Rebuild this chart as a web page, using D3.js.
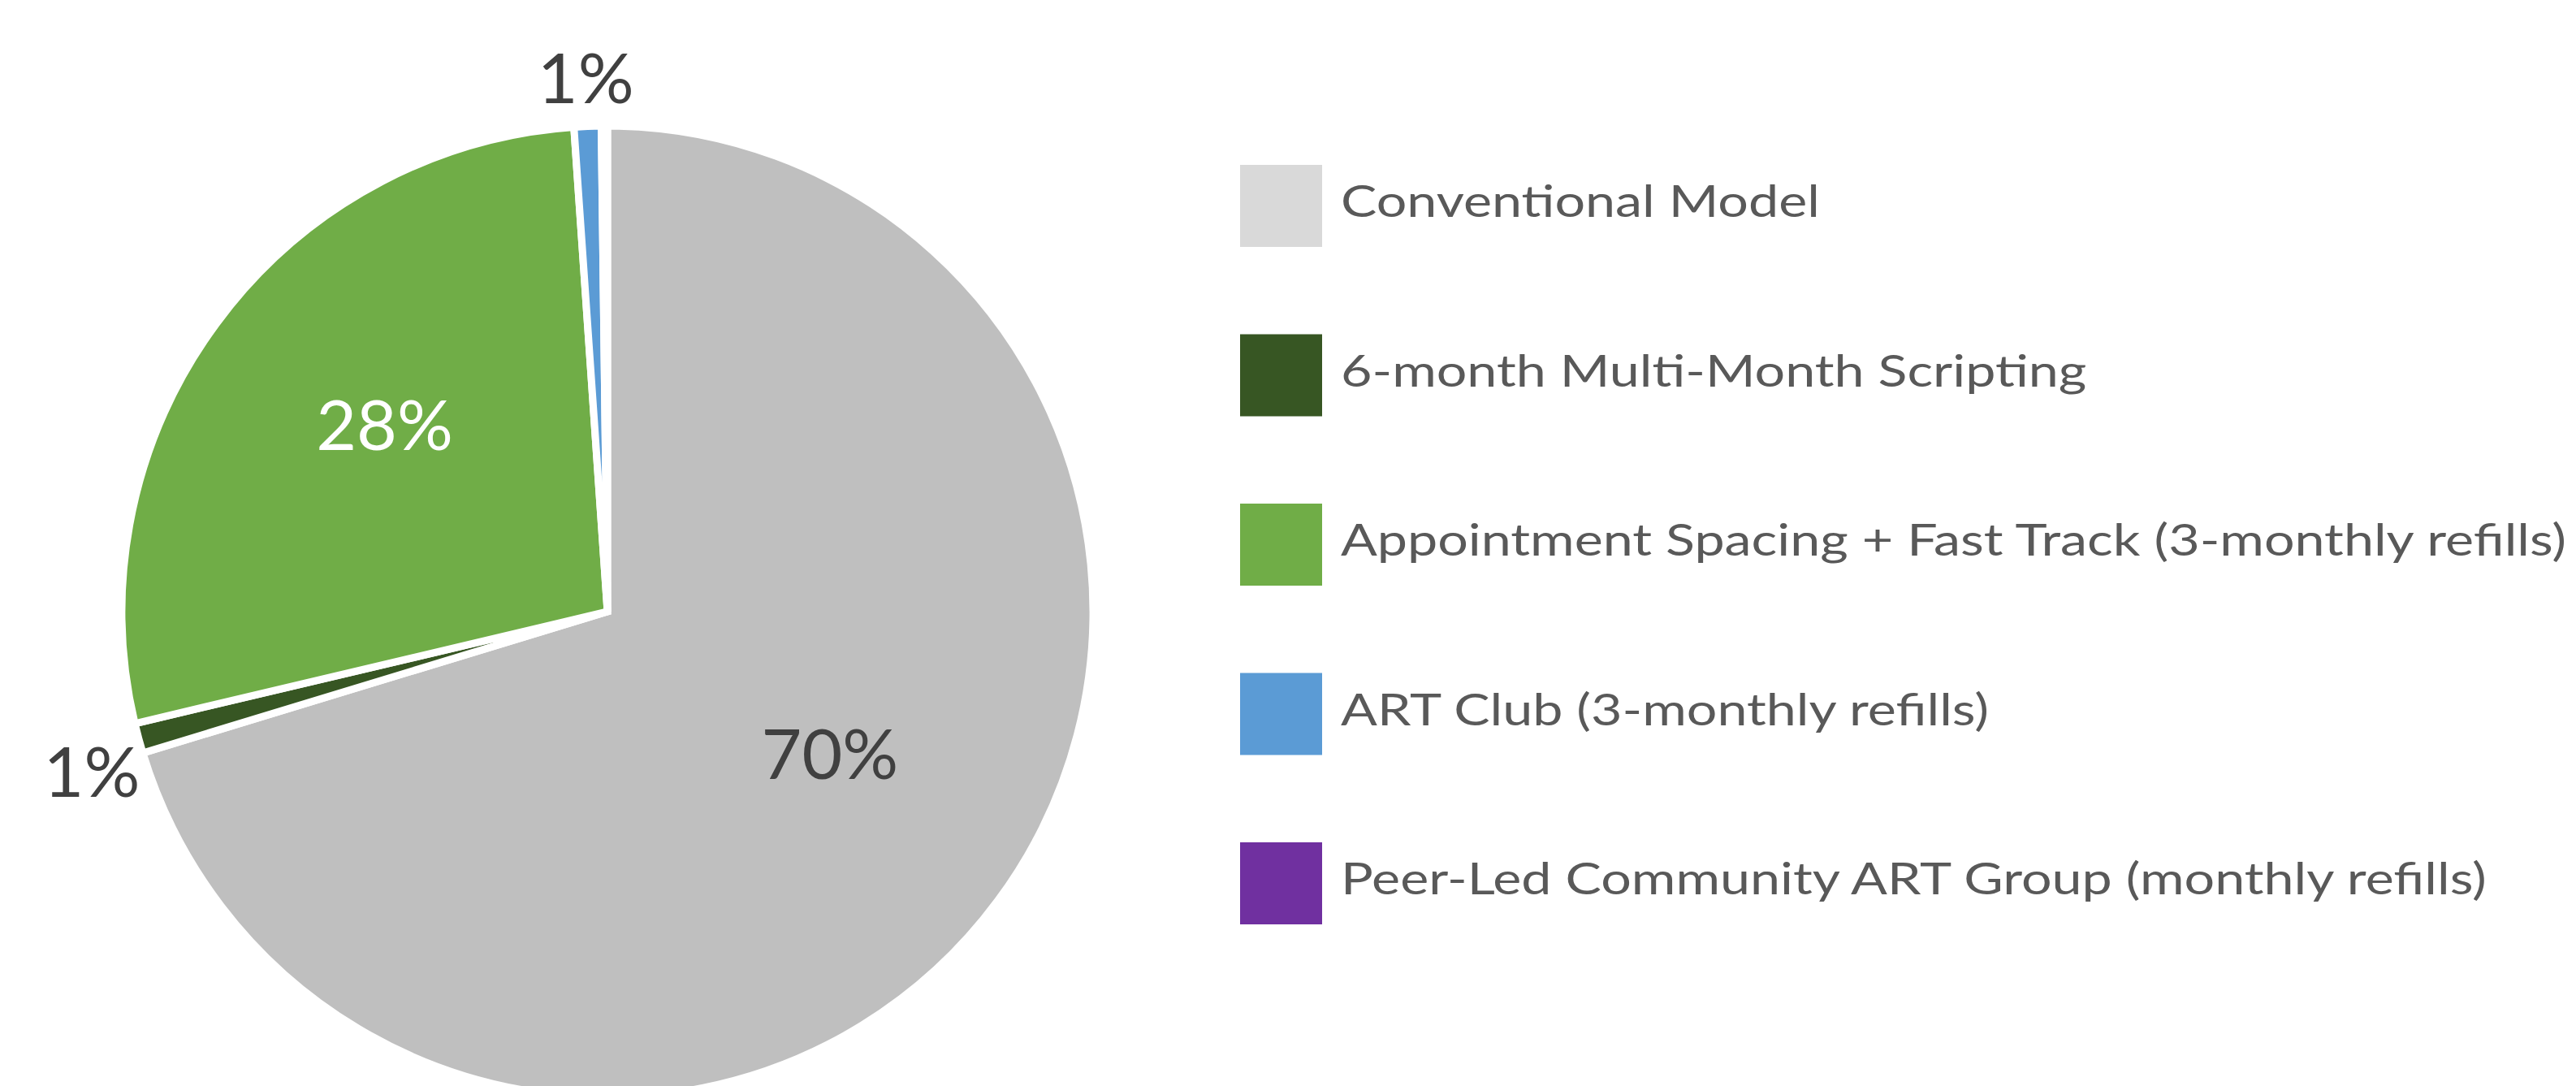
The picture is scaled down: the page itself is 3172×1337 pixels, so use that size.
<!DOCTYPE html>
<html>
<head>
<meta charset="utf-8">
<script src="https://cdn.jsdelivr.net/npm/d3@7"></script>
<style>
  html, body { margin: 0; padding: 0; background: #ffffff; }
  svg { display: block; }
</style>
</head>
<body>
<svg id="chart" width="3172" height="1337"></svg>
<script>
// ---- data ----
const categories = [
  "Conventional Model",
  "6-month Multi-Month Scripting",
  "Appointment Spacing + Fast Track (3-monthly refills)",
  "ART Club (3-monthly refills)",
  "Peer-Led Community ART Group (monthly refills)"
];
const shares = [70.3, 1.0, 27.6, 0.9, 0.2];
const valueLabels = ["70%", "1%", "28%", "1%", ""];
const sliceColors = ["#BFBFBF", "#375623", "#70AD47", "#5B9BD5", "#7030A0"];
const legendColors = ["#D9D9D9", "#375623", "#70AD47", "#5B9BD5", "#7030A0"];
const labelInside = [true, false, true, false, false];

// ---- layout ----
const W = 3172, H = 1337;
const cx = 748, cy = 753, R = 598;
const svg = d3.select("#chart");
const font = "Lato, 'Open Sans', sans-serif";

const data = categories.map((c, i) => ({ name: c, value: shares[i], label: valueLabels[i], i }));

const pie = d3.pie().value(d => d.value).sort(null).startAngle(0).endAngle(2 * Math.PI);
const arcs = pie(data);
const arc = d3.arc().innerRadius(0).outerRadius(R);

const g = svg.append("g").attr("transform", `translate(${cx},${cy})`);

g.selectAll("path.slice")
  .data(arcs)
  .join("path")
  .attr("class", "slice")
  .attr("d", arc)
  .attr("fill", d => sliceColors[d.data.i])
  .attr("stroke", "#ffffff")
  .attr("stroke-width", 9)
  .attr("stroke-linejoin", "miter");

// value labels
function midAngle(d) { return (d.startAngle + d.endAngle) / 2; }
function posAt(d, k) {
  const a = midAngle(d);
  return [Math.sin(a) * R * k, -Math.cos(a) * R * k];
}
g.selectAll("text.vl")
  .data(arcs.filter(d => d.data.label !== ""))
  .join("text")
  .attr("class", "vl")
  .attr("x", d => posAt(d, labelInside[d.data.i] ? 0.57 : 1.1)[0])
  .attr("y", d => posAt(d, labelInside[d.data.i] ? 0.57 : 1.1)[1])
  .attr("text-anchor", "middle")
  .attr("dy", d => {
    if (labelInside[d.data.i]) return "0.03em";
    return Math.cos(midAngle(d)) < 0 ? "0.66em" : "0.36em";
  })
  .attr("font-family", font)
  .attr("font-size", 86)
  .attr("fill", d => d.data.i === 2 ? "#ffffff" : "#404040")
  .text(d => d.data.label);

// legend
const legendX = 1527, sw = 101;
const rowY = d3.scalePoint().domain(d3.range(categories.length)).range([203, 1037]);
const lg = svg.append("g");
const items = lg.selectAll("g.item").data(data).join("g").attr("class", "item")
  .attr("transform", d => `translate(${legendX},${rowY(d.i)})`);
items.append("rect")
  .attr("width", sw).attr("height", sw)
  .attr("fill", d => legendColors[d.i]);
const texts = items.append("text")
  .attr("x", 124)
  .attr("y", 64)
  .attr("font-family", font)
  .attr("font-size", 54)
  .attr("fill", "#595959")
  .text(d => d.name);

// compress glyphs to approximate the narrow original face
const longest = texts.filter(d => d.i === 2).node();
const targetLongest = 1509;
const factor = targetLongest / longest.getComputedTextLength();
texts.each(function () {
  const w = this.getComputedTextLength();
  d3.select(this).attr("textLength", w * factor).attr("lengthAdjust", "spacingAndGlyphs");
});
</script>
</body>
</html>
